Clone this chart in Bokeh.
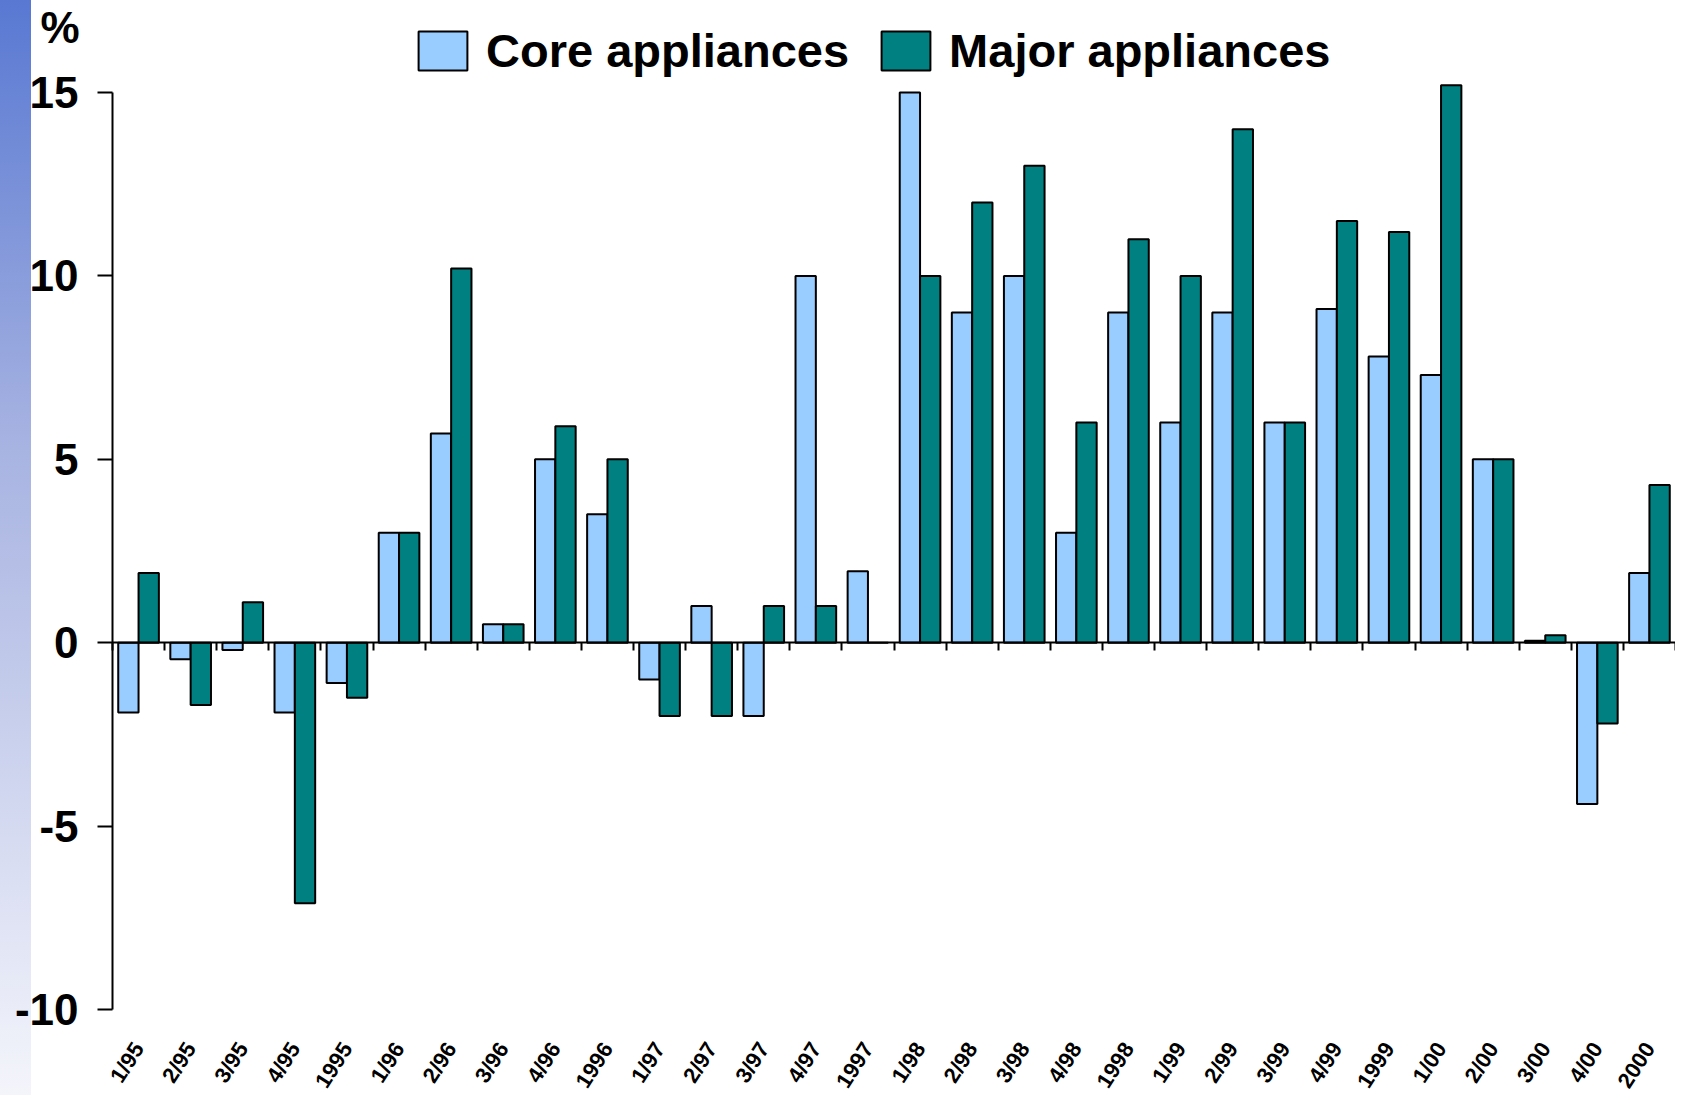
from bokeh.plotting import figure
from bokeh.models import (Range1d, LinearAxis, FixedTicker, Legend, LegendItem,
                          Label, ColumnDataSource)
from bokeh.embed import file_html
from bokeh.resources import INLINE

categories = ["1/95", "2/95", "3/95", "4/95", "1995",
              "1/96", "2/96", "3/96", "4/96", "1996",
              "1/97", "2/97", "3/97", "4/97", "1997",
              "1/98", "2/98", "3/98", "4/98", "1998",
              "1/99", "2/99", "3/99", "4/99", "1999",
              "1/00", "2/00", "3/00", "4/00", "2000"]
core = [-1.9, -0.45, -0.2, -1.9, -1.1,
        3.0, 5.7, 0.5, 5.0, 3.5,
        -1.0, 1.0, -2.0, 10.0, 1.95,
        15.0, 9.0, 10.0, 3.0, 9.0,
        6.0, 9.0, 6.0, 9.1, 7.8,
        7.3, 5.0, 0.05, -4.4, 1.9]
major = [1.9, -1.7, 1.1, -7.1, -1.5,
         3.0, 10.2, 0.5, 5.9, 5.0,
         -2.0, -2.0, 1.0, 1.0, 0.0,
         10.0, 12.0, 13.0, 6.0, 11.0,
         10.0, 14.0, 6.0, 11.5, 11.2,
         15.2, 5.0, 0.2, -2.2, 4.3]
y_ticks = [-10, -5, 0, 5, 10, 15]
y_tick_labels = ["-10", "-5", "0", "5", "10", "15"]
series_names = ["Core appliances", "Major appliances"]

# ---- layout geometry (pixels) ----
W, H = 1675, 1095
AX_LEFT, AX_RIGHT = 112, 1675          # x pixel of left axis / right end
PX_TOP_TICK, PX_BOTTOM_TICK = 92, 1009  # pixel rows of 15 and -10

n = len(categories)
ymin, ymax = y_ticks[0], y_ticks[-1]
slot = (AX_RIGHT - AX_LEFT) / n
ppu = (PX_BOTTOM_TICK - PX_TOP_TICK) / (ymax - ymin)
x_start = -AX_LEFT / slot
x_end = n + (W - AX_RIGHT) / slot
y_end = ymax + PX_TOP_TICK / ppu
y_start = ymin - (H - PX_BOTTOM_TICK) / ppu

bw = 0.39
src = ColumnDataSource(dict(
    xc=[i + 0.5 - bw / 2 for i in range(n)],
    xm=[i + 0.5 + bw / 2 for i in range(n)],
    core=core, major=major))

p = figure(width=W, height=H, output_backend="svg", toolbar_location=None,
           x_range=Range1d(x_start, x_end), y_range=Range1d(y_start, y_end),
           x_axis_type=None, y_axis_type=None,
           min_border_left=0, min_border_right=0, min_border_top=0,
           min_border_bottom=0)
p.outline_line_color = None
p.border_fill_color = None
p.background_fill_color = None
p.styles = {"background": "linear-gradient(to bottom, #5878d2 0%, #a6b2e1 40%, #f4f5fb 100%) left top / 31px 100% no-repeat, white"}

# grid (from the axis to the right end)
p.ygrid.ticker = FixedTicker(ticks=[t for t in y_ticks if t != 0])
p.ygrid.grid_line_color = "#ccccff"
p.ygrid.grid_line_width = 2
p.ygrid.bounds = (0, n)
p.xgrid.grid_line_color = None

# bars
r1 = p.vbar(x="xc", top="core", bottom=0, width=bw, source=src,
            fill_color="#99ccff", line_color="black", line_width=2)
r2 = p.vbar(x="xm", top="major", bottom=0, width=bw, source=src,
            fill_color="#008080", line_color="black", line_width=2)

# left value axis at x = 0
ya = LinearAxis(fixed_location=0, ticker=FixedTicker(ticks=y_ticks),
                bounds=(ymin, ymax))
ya.major_label_overrides = {t: s for t, s in zip(y_ticks, y_tick_labels)}
ya.major_label_text_font = "Liberation Sans"
ya.major_label_text_font_style = "bold"
ya.major_label_text_font_size = "44px"
ya.major_label_text_color = "black"
ya.major_tick_out = 15
ya.major_tick_in = 0
ya.major_tick_line_width = 2
ya.axis_line_width = 2
ya.minor_tick_line_color = None
ya.major_label_standoff = 19
p.add_layout(ya, "left")

# zero axis with boundary ticks (minor ticks only, no labels)
za = LinearAxis(fixed_location=0, bounds=(0, n),
                ticker=FixedTicker(ticks=[], minor_ticks=list(range(n + 1))))
za.major_tick_line_color = None
za.minor_tick_out = 8
za.minor_tick_in = 0
za.minor_tick_line_width = 2
za.minor_tick_line_color = "black"
za.axis_line_width = 2
p.add_layout(za, "below")

# category label axis at the bottom of the value range
xa = LinearAxis(fixed_location=ymin, bounds=(0, n),
                ticker=FixedTicker(ticks=[i + 0.5 for i in range(n)]))
xa.major_label_overrides = {i + 0.5: c for i, c in enumerate(categories)}
xa.axis_line_color = None
xa.major_tick_line_color = None
xa.minor_tick_line_color = None
xa.major_tick_out = 0
xa.major_tick_in = 0
xa.major_label_orientation = 1.0
xa.major_label_text_font = "Liberation Sans"
xa.major_label_text_font_style = "bold"
xa.major_label_text_font_size = "22px"
xa.major_label_text_color = "black"
xa.major_label_standoff = 35
p.add_layout(xa, "below")

# unit label
pct = Label(x=40, y=H - 27, x_units="screen", y_units="screen", text="%",
            text_font="Liberation Sans", text_font_style="bold",
            text_baseline="alphabetic",
            text_font_size="44px", text_color="black")
p.add_layout(pct)

# legend (area glyphs are drawn with a 10% inset, so the box is enlarged)
legend = Legend(items=[LegendItem(label=series_names[0], renderers=[r1]),
                       LegendItem(label=series_names[1], renderers=[r2])],
                orientation="horizontal", location=(412, H - 78),
                glyph_width=61, glyph_height=49, label_height=49,
                label_standoff=13, spacing=26, padding=0, margin=0,
                label_text_font="Liberation Sans", label_text_font_style="bold",
                label_text_font_size="47px", label_text_color="black",
                border_line_color=None, background_fill_alpha=0)
p.add_layout(legend, "center")

open("out.html", "w").write(file_html(p, INLINE))
